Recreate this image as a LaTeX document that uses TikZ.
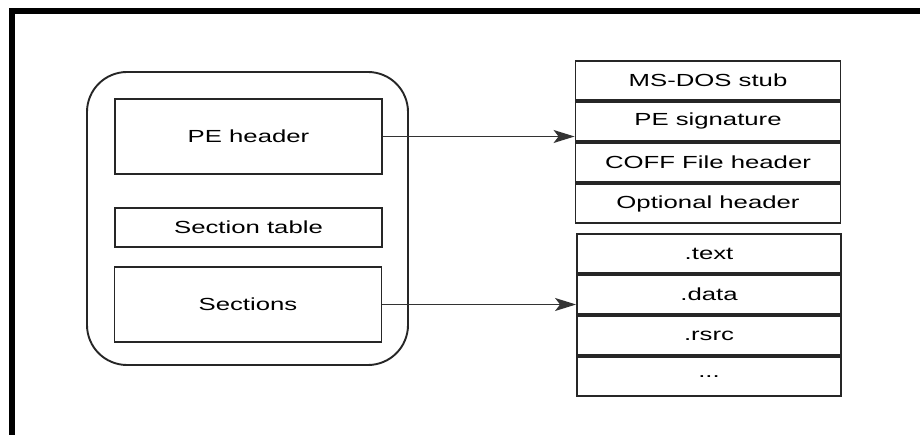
\documentclass[tikz,border=0pt]{standalone}
\usepackage{fontspec}
\setmainfont{Liberation Sans}
\usetikzlibrary{arrows.meta}
\newcommand{\wtxt}[1]{\scalebox{1.47}[1]{#1}}
\begin{document}
\begin{tikzpicture}[x=1pt,y=-1pt,
  box/.style={draw=black!85,line width=1.9pt,rectangle,inner sep=0pt,font=\fontsize{17.5}{21}\selectfont},
  rowbox/.style={box,minimum width=265pt,minimum height=39.2pt},
  link/.style={draw=black!80,line width=1.3pt,-{Stealth[length=21pt,width=13pt,inset=5pt]}}]
\useasboundingbox (0,0) rectangle (920,435);
\fill[white] (0,0) rectangle (920,435);
% outer frame (top and left)
\draw[line width=6.5pt] (12,440) -- (12,11.25) -- (925,11.25);
% container
\node[draw=black!85,line width=1.9pt,rounded corners=40pt,minimum width=321pt,minimum height=293pt,inner sep=0pt] (file) at (247.5,218.5) {};
% left boxes
\node[box,minimum width=267pt,minimum height=75pt] (pe) at (248.5,136.5) {\wtxt{PE header}};
\node[box,minimum width=267pt,minimum height=39.5pt] (st) at (248.5,227.5) {\wtxt{Section table}};
\node[box,minimum width=267pt,minimum height=75pt] (sec) at (248,304.5) {\wtxt{Sections}};
% right table 1
\node[rowbox] (dos) at (708,80.3) {\wtxt{MS-DOS stub}};
\node[rowbox,anchor=north] (sig) at (dos.south) {\wtxt{PE signature}};
\node[rowbox,anchor=north] (coff) at (sig.south) {\wtxt{COFF File header}};
\node[rowbox,anchor=north] (opt) at (coff.south) {\wtxt{Optional header}};
% right table 2
\node[rowbox,minimum width=264pt] (text) at (709,253.5) {\wtxt{.text}};
\node[rowbox,minimum width=264pt,anchor=north] (data) at (text.south) {\wtxt{.data}};
\node[rowbox,minimum width=264pt,anchor=north] (rsrc) at (data.south) {\wtxt{.rsrc}};
\node[rowbox,minimum width=264pt,anchor=north] (more) at (rsrc.south) {\wtxt{...}};
% connectors
\draw[link] (pe.east) -- (pe.east -| sig.west);
\draw[link] (sec.east) -- (sec.east -| data.west);
\end{tikzpicture}
\end{document}
